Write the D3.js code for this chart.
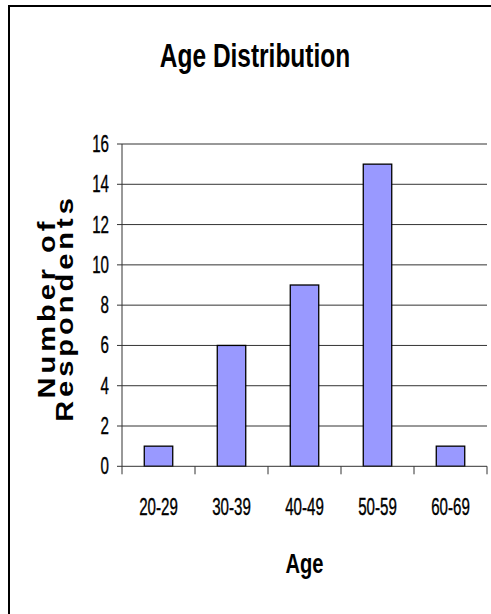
<!DOCTYPE html>
<html><head><meta charset="utf-8">
<script src="https://cdn.jsdelivr.net/npm/d3@7"></script>
<style>
html,body{margin:0;padding:0;background:#fff;overflow:hidden;}
text{font-family:"Liberation Sans",Arial,sans-serif;fill:#000;}
</style></head>
<body>
<script>
const categories = ["20-29","30-39","40-49","50-59","60-69"];
const counts = [1, 6, 9, 15, 1];
const yTicks = [0,2,4,6,8,10,12,14,16];
const chartTitle = "Age Distribution";
const xTitle = "Age";
const yTitleLines = ["Number of", "Respondents"];

const W = 491, H = 614;
const SX = 0.72; // horizontal text compression of the original
const svg = d3.select("body").append("svg").attr("width", W).attr("height", H);

// chart frame
svg.append("rect").attr("x", 9).attr("y", 6).attr("width", 600).attr("height", 700)
  .attr("fill", "#fff").attr("stroke", "#000").attr("stroke-width", 2);

const plot = {left: 122, right: 487, top: 144, bottom: 466.3};
const x = d3.scaleBand().domain(categories).range([plot.left, plot.right]).padding(0);
const y = d3.scaleLinear().domain([0, 16]).range([plot.bottom, plot.top]);

const lineColor = "#333";

// gridlines + y ticks
svg.append("g").selectAll("line").data(yTicks.filter(d => d > 0)).join("line")
  .attr("x1", plot.left - 5).attr("x2", plot.right)
  .attr("y1", d => y(d)).attr("y2", d => y(d))
  .attr("stroke", lineColor).attr("stroke-width", 1);
svg.append("line").attr("x1", plot.left - 5).attr("x2", plot.left)
  .attr("y1", y(0)).attr("y2", y(0)).attr("stroke", lineColor);

// y axis line
svg.append("line").attr("x1", plot.left).attr("x2", plot.left)
  .attr("y1", y(16)).attr("y2", y(0)).attr("stroke", lineColor).attr("stroke-width", 1);

// y tick labels
svg.append("g").selectAll("text").data(yTicks).join("text")
  .attr("transform", d => `translate(${plot.left - 13},${y(d) + 8}) scale(${SX},1.1)`)
  .attr("text-anchor", "end").attr("font-size", 21)
  .attr("stroke", "#000").attr("stroke-width", 0.35).text(d => d);

// bars
const barW = x.bandwidth() * 0.39;
svg.append("g").selectAll("rect").data(categories).join("rect")
  .attr("x", d => x(d) + (x.bandwidth() - barW) / 2)
  .attr("width", barW)
  .attr("y", (d, i) => y(counts[i]))
  .attr("height", (d, i) => y(0) - y(counts[i]))
  .attr("fill", "#9999FF").attr("stroke", "#000").attr("stroke-width", 1.3);

// x axis line and ticks
svg.append("line").attr("x1", plot.left).attr("x2", plot.right)
  .attr("y1", y(0)).attr("y2", y(0)).attr("stroke", lineColor).attr("stroke-width", 1);
const xTickPos = categories.map(c => x(c)).concat([plot.right]);
svg.append("g").selectAll("line").data(xTickPos).join("line")
  .attr("x1", d => d).attr("x2", d => d)
  .attr("y1", y(0)).attr("y2", y(0) + 8)
  .attr("stroke", lineColor).attr("stroke-width", 1);

// category labels
svg.append("g").selectAll("text").data(categories).join("text")
  .attr("transform", d => `translate(${x(d) + x.bandwidth() / 2},515) scale(${SX},1.1)`)
  .attr("text-anchor", "middle").attr("font-size", 21)
  .attr("stroke", "#000").attr("stroke-width", 0.35).text(d => d);

// title
svg.append("text")
  .attr("transform", `translate(255,67) scale(${SX},1)`)
  .attr("text-anchor", "middle").attr("font-size", 34).attr("font-weight", "bold")
  .text(chartTitle);

// x title
svg.append("text")
  .attr("transform", `translate(${(plot.left + plot.right) / 2},573) scale(${SX},1)`)
  .attr("text-anchor", "middle").attr("font-size", 28).attr("font-weight", "bold")
  .text(xTitle);

// y title (rotated, letter-spaced)
const yt = svg.append("g").attr("transform", `translate(38,308) scale(0.8,1) rotate(-90)`);
yt.selectAll("text").data(yTitleLines).join("text")
  .attr("x", 0).attr("y", (d, i) => 21 + i * 23)
  .attr("text-anchor", "middle").attr("font-size", 29).attr("font-weight", "bold")
  .attr("letter-spacing", "4px")
  .text(d => d);
</script>
</body></html>
